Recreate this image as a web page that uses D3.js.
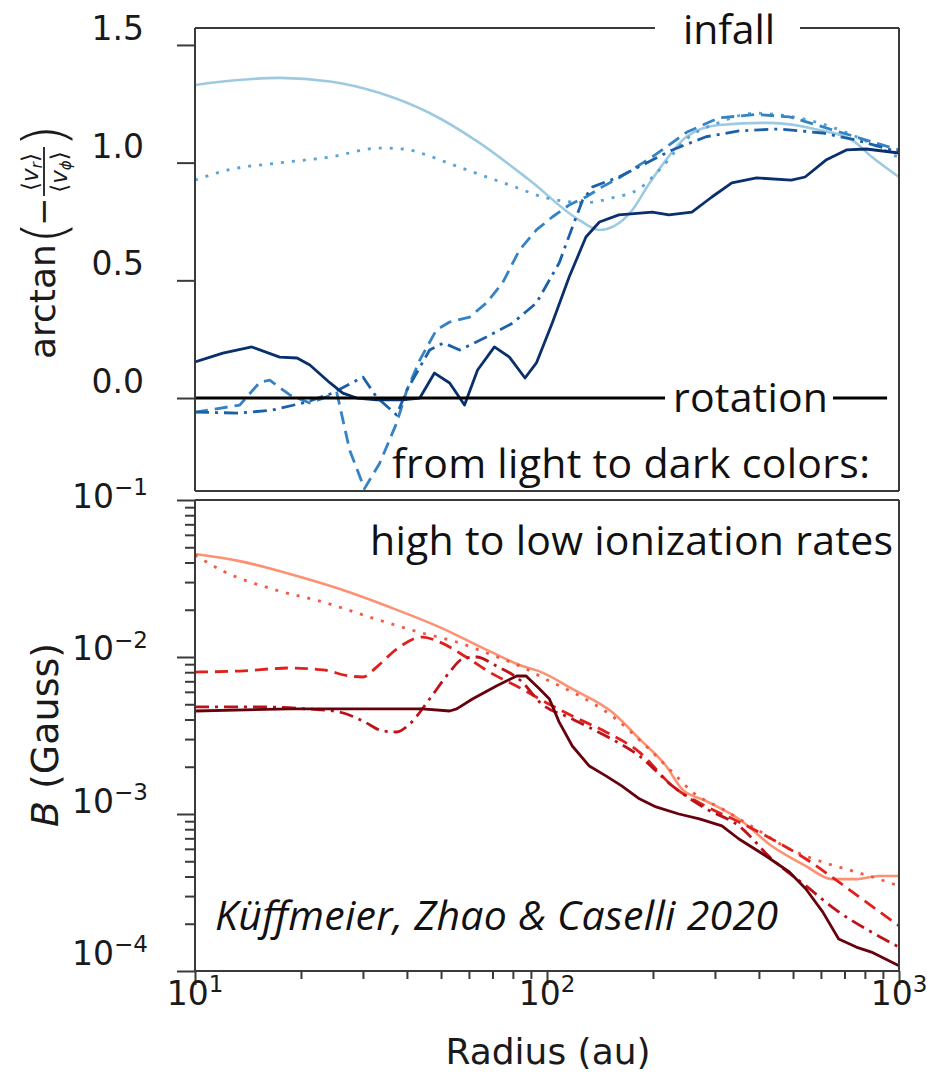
<!DOCTYPE html>
<html><head><meta charset="utf-8">
<script src="https://cdn.jsdelivr.net/npm/d3@7"></script>
<style>body{margin:0;background:#fff}svg{display:block}</style>
</head><body><svg id="c" width="931" height="1075"></svg>
<script>
// ---------------- data ----------------
const radiusTicks = [10, 100, 1000];
const radiusLabels = ["1", "2", "3"];            // exponents of 10
const arctanTicks = [0, 0.5, 1.0, 1.5];
const arctanLabels = ["0.0", "0.5", "1.0", "1.5"];
const bTicks = [1e-1, 1e-2, 1e-3, 1e-4];
const bLabels = ["\u22121", "\u22122", "\u22123", "\u22124"];
const bMinorTicks = [2,3,4,5,6,7,8,9].flatMap(m => [1e-4, 1e-3, 1e-2].map(d => m * d));
const radiusMinorTicks = [2,3,4,5,6,7,8,9].flatMap(m => [10, 100].map(d => m * d));

const ionization = ["highest", "high", "medium", "low", "lowest"];

// top panel: [radius (au), arctan(-<v_r>/<v_phi>)]
const angHighest = [[10,1.33],[13,1.35],[17.4,1.36],[24.2,1.345],[33.5,1.296],[46.4,1.211],[64.3,1.084],[89.1,0.926],[123.5,0.756],[140.9,0.714],[155,0.73],[175,0.80],[195,0.91],[215,1.0],[249,1.11],[308,1.16],[427,1.169],[593,1.139],[736,1.096],[838,1.024],[1000,0.939]];
const angHigh = [[10,0.926],[12.5,0.97],[17.4,0.999],[24.2,1.024],[33.5,1.062],[39,1.058],[45,1.035],[52,1.0],[64.3,0.95],[80,0.90],[99.6,0.85],[129,0.83],[153,0.85],[183,0.89],[212,0.98],[249,1.10],[308,1.17],[389,1.21],[520,1.19],[676,1.14],[838,1.08],[1000,1.02]];
const angMedium = [[10,-0.06],[13.4,-0.03],[15.3,0.068],[16.3,0.076],[18.6,0.013],[21.2,-0.021],[25.3,0.021],[27.5,-0.221],[30.3,-0.385],[33.5,-0.276],[37.4,-0.106],[40,0.034],[43.5,0.161],[48.5,0.289],[52.9,0.323],[60.3,0.344],[67.3,0.404],[74.8,0.489],[83.5,0.629],[93.3,0.714],[103.5,0.769],[115.6,0.82],[129,0.854],[143.5,0.897],[160,0.935],[199,1.024],[250,1.13],[308,1.19],[394,1.205],[490,1.194],[607,1.152],[755,1.109],[1000,1.054]];
const angLow = [[10,-0.06],[13.4,-0.064],[16.6,-0.051],[20.8,-0.017],[24.6,0.021],[30,0.089],[32.8,0.004],[37.4,-0.072],[40,0.034],[46.4,0.204],[50.8,0.234],[56.5,0.204],[67.3,0.259],[80,0.319],[93.3,0.404],[108.3,0.574],[118.1,0.727],[126.3,0.841],[134.8,0.897],[160,0.939],[199,1.011],[227,1.054],[283,1.11],[351,1.135],[455,1.143],[607,1.126],[755,1.096],[1000,1.045]];
const angLowest = [[10,0.153],[12,0.191],[14.5,0.217],[17.4,0.174],[19.5,0.17],[21.2,0.14],[24.2,0.064],[26.3,0.021],[28.8,0.0],[32.8,-0.008],[38.9,-0.008],[43.5,0.0],[47.9,0.106],[52.9,0.064],[58.3,-0.03],[63.5,0.119],[70.9,0.217],[78.2,0.174],[86.6,0.085],[93.3,0.149],[103.5,0.319],[115.6,0.514],[129,0.684],[140.9,0.748],[160,0.778],[199,0.79],[222,0.778],[258,0.79],[294,0.854],[335,0.914],[394,0.935],[494,0.926],[541,0.939],[620,1.011],[709,1.054],[807,1.058],[1000,1.041]];

// bottom panel: [radius (au), B (Gauss)]
const bHighest = [[10,0.0453],[13.4,0.0408],[18.6,0.0338],[25.8,0.0271],[35.7,0.0208],[49.5,0.0155],[68.6,0.0109],[85,0.00877],[95.3,0.0081],[118,0.00626],[153,0.00446],[183,0.00301],[218,0.00202],[242,0.00144],[283,0.00121],[351,0.00093],[435,0.000625],[544,0.000466],[645,0.000385],[756,0.000385],[876,0.000403],[1000,0.000403]];
const bHigh = [[10,0.0447],[12,0.0353],[16.6,0.0271],[23.1,0.0224],[32,0.0177],[44.3,0.0142],[55.4,0.01246],[68.6,0.01045],[85,0.00863],[101.6,0.00703],[118,0.00598],[157,0.00403],[191,0.00271],[227,0.00185],[259,0.00138],[314,0.00108],[393,0.000802],[488,0.000598],[607,0.000494],[756,0.000427],[876,0.000385],[1000,0.000348]];
const bMedium = [[10,0.00802],[13.4,0.00814],[18.6,0.00851],[23.1,0.00827],[27.5,0.00757],[30,0.00746],[32.8,0.00863],[37.4,0.01124],[44.3,0.0134],[49.5,0.01246],[58.9,0.0100],[68.6,0.00802],[85,0.00625],[95.3,0.0054],[118,0.00421],[147,0.00333],[183,0.00248],[227,0.00151],[283,0.00112],[351,0.00089],[435,0.000693],[544,0.000517],[674,0.000369],[835,0.00026],[1000,0.000194]];
const bLow = [[10,0.00481],[15,0.00481],[20.8,0.00467],[25.8,0.00446],[30,0.00391],[34.2,0.00338],[37.4,0.00333],[40.7,0.00374],[46.4,0.0054],[52.9,0.00802],[57.5,0.00971],[63,0.01],[71.8,0.00877],[85,0.00694],[95.3,0.00516],[118,0.00403],[147,0.00314],[183,0.00234],[227,0.00151],[283,0.00108],[351,0.00084],[435,0.000517],[544,0.000348],[674,0.000238],[835,0.000177],[1000,0.000142]];
const bLowest = [[10,0.00453],[18.6,0.00467],[28.8,0.00467],[44.3,0.00467],[52.9,0.00453],[55.4,0.00467],[61.4,0.0054],[71.8,0.00653],[82,0.00757],[87.2,0.00757],[95.3,0.00625],[101.6,0.0054],[108.3,0.00385],[118,0.00271],[131.9,0.00202],[147,0.00175],[163,0.00151],[183,0.00125],[204,0.00111],[237,0.001],[271,0.00093],[314,0.00084],[351,0.000693],[419,0.00054],[488,0.000427],[544,0.000333],[607,0.000238],[674,0.00016],[756,0.000142],[835,0.000132],[1000,0.000108]];

const topSeries = [angHighest, angHigh, angMedium, angLow, angLowest];
const botSeries = [bHighest, bHigh, bMedium, bLow, bLowest];
const blues = ["#9ecae1", "#5aa3d6", "#3583c4", "#1c60a8", "#0a2f6d"];
const reds  = ["#fc9272", "#f25a44", "#e0201c", "#bd1219", "#67000d"];
const dashes = [null, "3,8", "13,7", "14,6,3,6", null];
const topCurves = [d3.curveMonotoneX, d3.curveMonotoneX, d3.curveLinear, d3.curveLinear, d3.curveLinear];
const botCurves = [d3.curveMonotoneX, d3.curveMonotoneX, d3.curveMonotoneX, d3.curveMonotoneX, d3.curveLinear];

// ---------------- layout ----------------
const svg = d3.select("#c");
const L = 195, R = 899;
const topT = 28, topB = 491, botT = 500, botB = 971;
const spineColor = "#3a3a3a";

const x = d3.scaleLog().domain([10, 1000]).range([L, R]);
const yTop = d3.scaleLinear().domain([-0.395, 1.572]).range([topB, topT]);
const yBot = d3.scaleLog().domain([1e-4, 1e-1]).range([botB, botT]);

const defs = svg.append("defs");
defs.append("clipPath").attr("id", "clipTop").append("rect").attr("x", L).attr("y", topT).attr("width", R - L).attr("height", topB - topT);
defs.append("clipPath").attr("id", "clipBot").append("rect").attr("x", L).attr("y", botT).attr("width", R - L).attr("height", botB - botT);

// ---- top panel lines
const gTop = svg.append("g").attr("clip-path", "url(#clipTop)");
topSeries.forEach((s, i) => {
  const ln = d3.line().x(d => x(d[0])).y(d => yTop(d[1])).curve(topCurves[i]);
  gTop.append("path").datum(s).attr("d", ln).attr("fill", "none")
    .attr("stroke", blues[i]).attr("stroke-width", i === 0 ? 2.6 : 2.8)
    .attr("stroke-dasharray", dashes[i]).attr("stroke-linejoin", "round");
});

// ---- bottom panel lines
const gBot = svg.append("g").attr("clip-path", "url(#clipBot)");
botSeries.forEach((s, i) => {
  const ln = d3.line().x(d => x(d[0])).y(d => yBot(d[1])).curve(botCurves[i]);
  gBot.append("path").datum(s).attr("d", ln).attr("fill", "none")
    .attr("stroke", reds[i]).attr("stroke-width", i === 0 ? 2.6 : 2.8)
    .attr("stroke-dasharray", dashes[i]).attr("stroke-linejoin", "round");
});

// ---- annotations
const annFont = "'Open Sans', sans-serif";
svg.append("text").attr("x", 683).attr("y", 44).attr("font-family", annFont)
  .attr("font-size", 41).attr("fill", "#111").attr("textLength", 92).text("infall");
svg.append("text").attr("x", 673).attr("y", 412).attr("font-family", annFont)
  .attr("font-size", 41).attr("fill", "#111").attr("textLength", 155).text("rotation");
svg.append("text").attr("x", 392).attr("y", 478).attr("font-family", annFont)
  .attr("font-size", 41).attr("fill", "#111").attr("textLength", 478).text("from light to dark colors:");
svg.append("text").attr("x", 370).attr("y", 555).attr("font-family", annFont)
  .attr("font-size", 41).attr("fill", "#111").attr("textLength", 523).text("high to low ionization rates");
svg.append("text").attr("x", 215).attr("y", 930).attr("font-family", annFont).attr("font-style", "italic")
  .attr("font-size", 41).attr("fill", "#111").attr("textLength", 563).text("K\u00fcffmeier, Zhao & Caselli 2020");

// rotation (zero) line with a gap for the text
const zeroRightEnd = 925; // radius (au) where the line stops
svg.append("line").attr("x1", L).attr("x2", 665).attr("y1", yTop(0)).attr("y2", yTop(0)).attr("stroke", "#000").attr("stroke-width", 3);
svg.append("line").attr("x1", 833).attr("x2", x(zeroRightEnd)).attr("y1", yTop(0)).attr("y2", yTop(0)).attr("stroke", "#000").attr("stroke-width", 3);

// ---- spines
function seg(x1, y1, x2, y2) {
  svg.append("line").attr("x1", x1).attr("y1", y1).attr("x2", x2).attr("y2", y2)
    .attr("stroke", spineColor).attr("stroke-width", 2);
}
seg(L, topT, 655, topT); seg(800, topT, R, topT);
seg(L, topT, L, topB); seg(R, topT, R, topB); seg(L, topB, R, topB);
seg(L, botT, R, botT); seg(L, botT, L, botB); seg(R, botT, R, botB); seg(L, botB, R, botB);

// ---- axes (ticks)
function styleAxis(g) {
  g.select(".domain").remove();
  g.selectAll(".tick line").attr("stroke", spineColor).attr("stroke-width", 2);
  g.selectAll(".tick text").remove();
}
svg.append("g").attr("transform", `translate(${L},0)`)
  .call(d3.axisLeft(yTop).tickValues(arctanTicks).tickSize(18)).call(styleAxis);
svg.append("g").attr("transform", `translate(${L},0)`)
  .call(d3.axisLeft(yBot).tickValues(bTicks).tickSize(18)).call(styleAxis);
svg.append("g").attr("transform", `translate(${L},0)`)
  .call(d3.axisLeft(yBot).tickValues(bMinorTicks).tickSize(10)).call(styleAxis);
svg.append("g").attr("transform", `translate(0,${botB})`)
  .call(d3.axisBottom(x).tickValues(radiusTicks).tickSize(14)).call(styleAxis);
svg.append("g").attr("transform", `translate(0,${botB})`)
  .call(d3.axisBottom(x).tickValues(radiusMinorTicks).tickSize(8)).call(styleAxis);

// ---- tick labels
const tickFont = "'DejaVu Sans', sans-serif";
arctanTicks.forEach((v, i) => {
  svg.append("text").attr("x", 144).attr("y", yTop(v) - 17).attr("dy", "0.36em")
    .attr("text-anchor", "end").attr("font-family", tickFont).attr("font-size", 33)
    .attr("fill", "#1a1a1a").text(arctanLabels[i]);
});
bTicks.forEach((v, i) => {
  const t = svg.append("text").attr("x", 148).attr("y", yBot(v) - (4 + 4.6 * i)).attr("dy", "0.36em")
    .attr("text-anchor", "end").attr("font-family", tickFont).attr("font-size", 33).attr("fill", "#1a1a1a");
  t.append("tspan").text("10");
  t.append("tspan").attr("dy", "-0.55em").attr("font-size", 23).text(bLabels[i]);
});
radiusTicks.forEach((v, i) => {
  const t = svg.append("text").attr("x", x(v)).attr("y", 1005)
    .attr("text-anchor", "middle").attr("font-family", tickFont).attr("font-size", 33).attr("fill", "#1a1a1a");
  t.append("tspan").text("10");
  t.append("tspan").attr("dy", "-0.55em").attr("font-size", 23).text(radiusLabels[i]);
});

// ---- axis titles
svg.append("text").attr("x", 548).attr("y", 1064).attr("text-anchor", "middle")
  .attr("font-family", tickFont).attr("font-size", 36).attr("fill", "#1a1a1a").text("Radius (au)");

const bl = svg.append("text").attr("transform", "translate(58,735) rotate(-90)").attr("text-anchor", "middle")
  .attr("font-family", tickFont).attr("font-size", 38).attr("fill", "#1a1a1a");
bl.append("tspan").attr("font-style", "italic").text("B");
bl.append("tspan").text(" (Gauss)");

// arctan(-<v_r>/<v_phi>) label, built from pieces
const al = svg.append("g").attr("transform", "translate(55,240) rotate(-90)")
  .attr("font-family", tickFont).attr("fill", "#1a1a1a");
al.append("text").attr("x", -119).attr("y", 0).attr("font-size", 36).text("arctan");
al.append("text").attr("x", -4).attr("y", 10).attr("font-size", 58).attr("font-weight", 200).text("(");
al.append("text").attr("x", 14).attr("y", 0).attr("font-size", 34).text("\u2212");
const num = al.append("text").attr("x", 68).attr("y", -17).attr("text-anchor", "middle").attr("font-size", 23);
num.append("tspan").text("\u27e8");
num.append("tspan").attr("font-style", "italic").text("v");
num.append("tspan").attr("font-size", 15).attr("dy", 4).attr("font-style", "italic").text("r");
num.append("tspan").attr("dy", -4).text("\u27e9");
al.append("line").attr("x1", 44).attr("x2", 93).attr("y1", -11).attr("y2", -11).attr("stroke", "#1a1a1a").attr("stroke-width", 1.8);
const den = al.append("text").attr("x", 68).attr("y", 12).attr("text-anchor", "middle").attr("font-size", 23);
den.append("tspan").text("\u27e8");
den.append("tspan").attr("font-style", "italic").text("v");
den.append("tspan").attr("font-size", 15).attr("dy", 4).attr("font-style", "italic").text("\u03d5");
den.append("tspan").attr("dy", -4).text("\u27e9");
al.append("text").attr("x", 93).attr("y", 10).attr("font-size", 58).attr("font-weight", 200).text(")");
</script>
</body></html>
